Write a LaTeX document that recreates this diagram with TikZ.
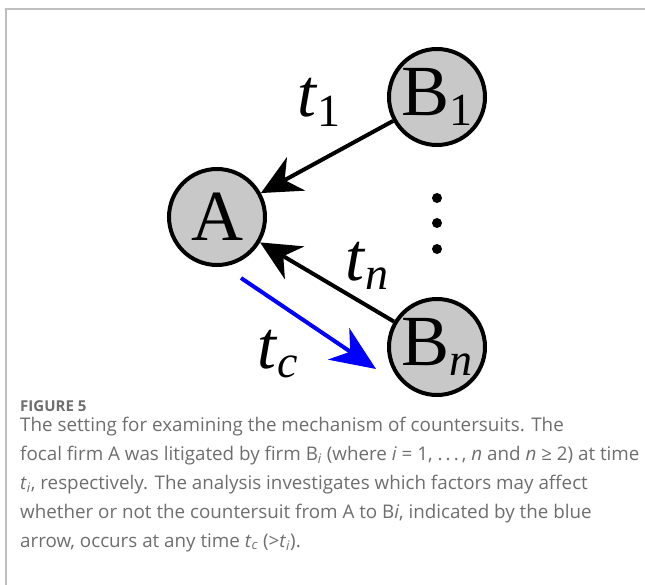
\documentclass[tikz,border=0pt]{standalone}
\usepackage{fontspec}
\setmainfont{Liberation Serif}
\newfontfamily\capfont{Open Sans}
\usetikzlibrary{arrows.meta}
\definecolor{capgray}{RGB}{110,110,110}
\definecolor{firmgray}{RGB}{200,200,200}
\definecolor{rulegray}{RGB}{190,190,190}
\newcommand{\subtxt}[1]{\raisebox{-0.14em}{\fontsize{46}{46}\selectfont #1}}

\begin{document}
\begin{tikzpicture}[x=1pt, y=-1pt,
    firm/.style={circle, draw, line width=4pt, fill=firmgray, minimum size=96pt,
      inner sep=0pt, font=\fontsize{72}{72}\selectfont},
    suit/.style={line width=4pt, -{Stealth[length=40pt, width=38pt, inset=13pt]}},
    counter/.style={blue, line width=4pt, -{Stealth[length=45pt, width=38pt, inset=14pt]}},
    timelabel/.style={anchor=base west, inner sep=0pt, font=\fontsize{68}{68}\selectfont},
    captext/.style={anchor=base west, inner sep=0pt, text=capgray,
      font=\capfont\fontsize{18.8}{22}\selectfont}]
  \useasboundingbox (0,0) rectangle (645,585);
  \draw[rulegray, line width=1.5pt] (6,585) -- (6,9) -- (645,9);

  % firms
  \node[firm] (a) at (217,217) {A};
  \node[firm] (b1) at (437,97) {B\subtxt{1}};
  \node[firm] (bn) at (437,347) {B\subtxt{\itshape n}};
  \foreach \y in {198,223,249}
    \fill (437,\y) circle (5pt);

  % lawsuits
  \draw[suit] (b1) -- (a);
  \draw[suit] (bn) -- (a);
  \coordinate (cstart) at (241,278);
  \coordinate (cend) at (376,369);
  \draw[counter] (cstart) -- (cend);

  \node[timelabel] (t1) at (297,117) {\textit{t}\subtxt{1}};
  \node[timelabel] (tn) at (345,280) {\textit{t}\subtxt{\itshape n}};
  \node[timelabel] (tc) at (257,368) {\textit{t}\subtxt{\itshape c}};

  % caption
  \node[captext, font=\capfont\bfseries\fontsize{15}{18}\selectfont] (fig) at (20,411) {FIGURE 5};
  \node[captext] (cap1) at (20,431) {The setting for examining the mechanism of countersuits. The};
  \node[captext] (cap2) at (20,460) {focal firm A was litigated by firm B\textsubscript{\textit{i}} (where \textit{i} = 1, .\,.\,.\,, \textit{n} and \textit{n} ≥ 2) at time};
  \node[captext] (cap3) at (20,489) {\textit{t}\textsubscript{\textit{i}}, respectively. The analysis investigates which factors may affect};
  \node[captext] (cap4) at (20,518) {whether or not the countersuit from A to B\textit{i}, indicated by the blue};
  \node[captext] (cap5) at (20,547) {arrow, occurs at any time \textit{t}\textsubscript{\textit{c}} (>\textit{t}\textsubscript{\textit{i}}).};
\end{tikzpicture}
\end{document}
